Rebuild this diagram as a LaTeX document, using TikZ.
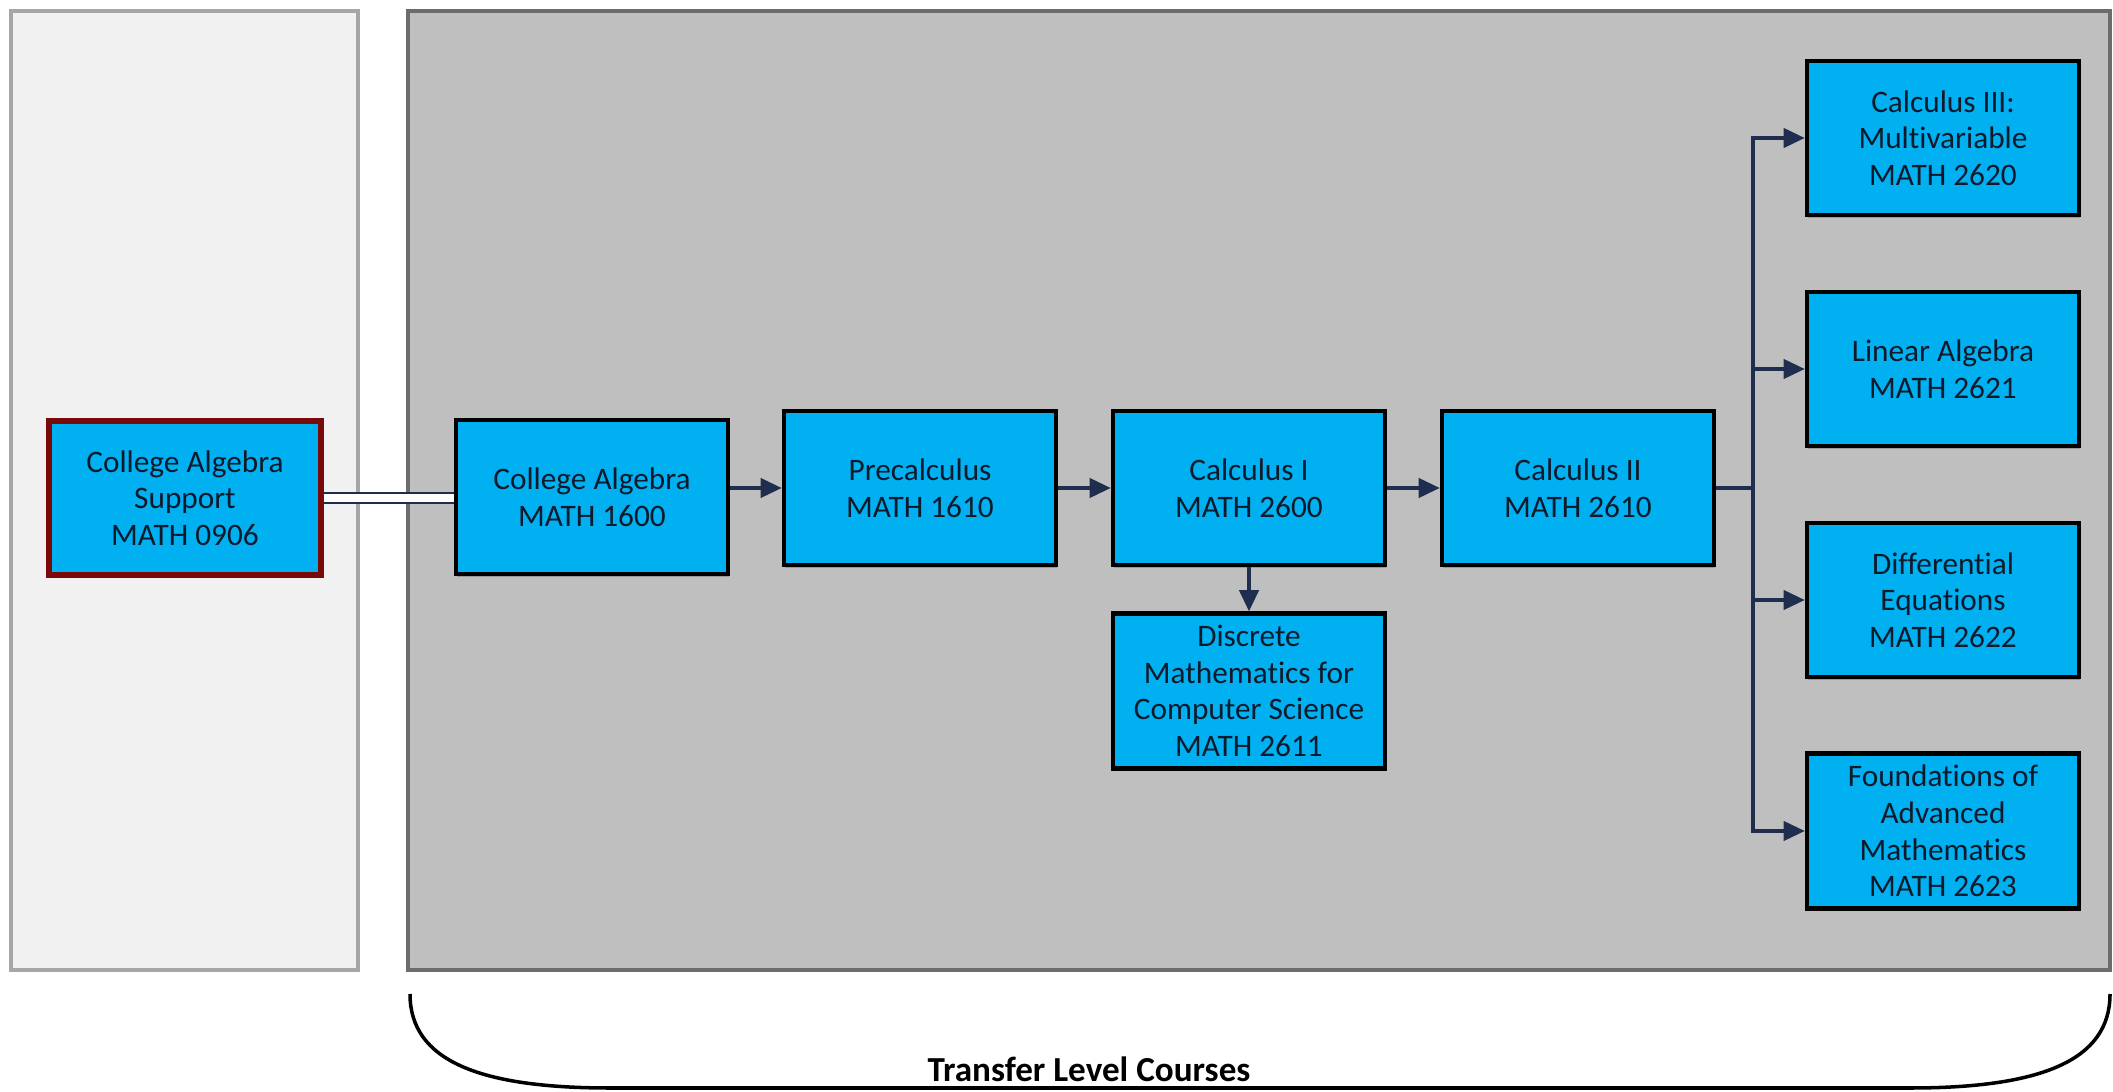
\documentclass[tikz,border=0pt]{standalone}
\usepackage{fontspec}
\setmainfont{Carlito}[Ligatures=NoCommon]
\usepackage{tikz}
\usetikzlibrary{arrows.meta,shadows}

\definecolor{coursefill}{HTML}{00B0F0}
\definecolor{linkcol}{HTML}{1F2D4E}
\definecolor{supportred}{HTML}{7A0A0A}
\definecolor{lightpanel}{HTML}{F1F1F1}
\definecolor{darkpanel}{HTML}{BFBFBF}
\definecolor{textcol}{HTML}{0E1A2C}

\begin{document}
\begin{tikzpicture}[
    course/.style={draw=black,line width=1.3pt,fill=coursefill,
      minimum width=2.72cm,minimum height=1.54cm,align=center,
      text=textcol,font=\fontsize{8.9}{10.4}\selectfont,
      drop shadow={shadow xshift=0.4pt,shadow yshift=-0.8pt,opacity=0.6}},
    support/.style={course,draw=supportred,line width=1.5pt},
    arr/.style={draw=linkcol,line width=0.9pt,-{Triangle[length=6pt,width=5.5pt]}},
    link/.style={draw=linkcol,line width=0.9pt}]
    \useasboundingbox (0,0) rectangle (21.13,10.91);

    % Panels
    \fill[lightpanel] (0.11,1.21) rectangle (3.58,10.80);
    \draw[gray!70,line width=1.4pt] (0.11,1.21) rectangle (3.58,10.80);
    \fill[darkpanel] (4.08,1.21) rectangle (21.10,10.80);
    \draw[gray!85!black,line width=1.4pt] (4.08,1.21) rectangle (21.10,10.80);

    % Courses
    \node[support] (cas) at (1.85,5.93) {College Algebra\\Support\\MATH 0906};
    \node[course] (ca) at (5.92,5.94) {College Algebra\\MATH 1600};
    \node[course] (pre) at (9.20,6.03) {Precalculus\\MATH 1610};
    \node[course] (calc1) at (12.49,6.03) {Calculus I\\MATH 2600};
    \node[course] (calc2) at (15.78,6.03) {Calculus II\\MATH 2610};
    \node[course] (disc) at (12.49,4.00) {Discrete\\Mathematics for\\Computer Science\\MATH 2611};
    \node[course] (calc3) at (19.43,9.53) {Calculus III:\\Multivariable\\MATH 2620};
    \node[course] (linalg) at (19.43,7.22) {Linear Algebra\\MATH 2621};
    \node[course] (diffeq) at (19.43,4.91) {Differential\\Equations\\MATH 2622};
    \node[course] (found) at (19.43,2.60) {Foundations of\\Advanced\\Mathematics\\MATH 2623};

    % Support link
    \draw[linkcol,line width=0.8pt,double=white,double distance=2pt]
      (cas.east) -- (cas.east -| ca.west);

    % Sequence
    \draw[arr] (ca.east |- pre.west) -- (pre.west);
    \draw[arr] (pre.east) -- (calc1.west);
    \draw[arr] (calc1.east) -- (calc2.west);
    \draw[arr] (calc1.south) -- (disc.north);

    % Branches after Calculus II
    \coordinate (jn) at (17.53,6.03);
    \draw[link] (calc2.east) -- (jn);
    \draw[arr] (jn) |- (calc3.west);
    \draw[arr] (jn) |- (linalg.west);
    \draw[arr] (jn) |- (diffeq.west);
    \draw[arr] (jn) |- (found.west);

    % Bracket
    \draw[line width=1pt] (4.10,0.97) .. controls (4.10,0.30) and (4.80,0.03) .. (6.10,0.03)
      -- (19.10,0.03) .. controls (20.40,0.03) and (21.10,0.30) .. (21.10,0.97);
    \node[font=\fontsize{10}{12}\selectfont\bfseries] (transfer) at (10.89,0.22) {Transfer Level Courses};
\end{tikzpicture}
\end{document}
